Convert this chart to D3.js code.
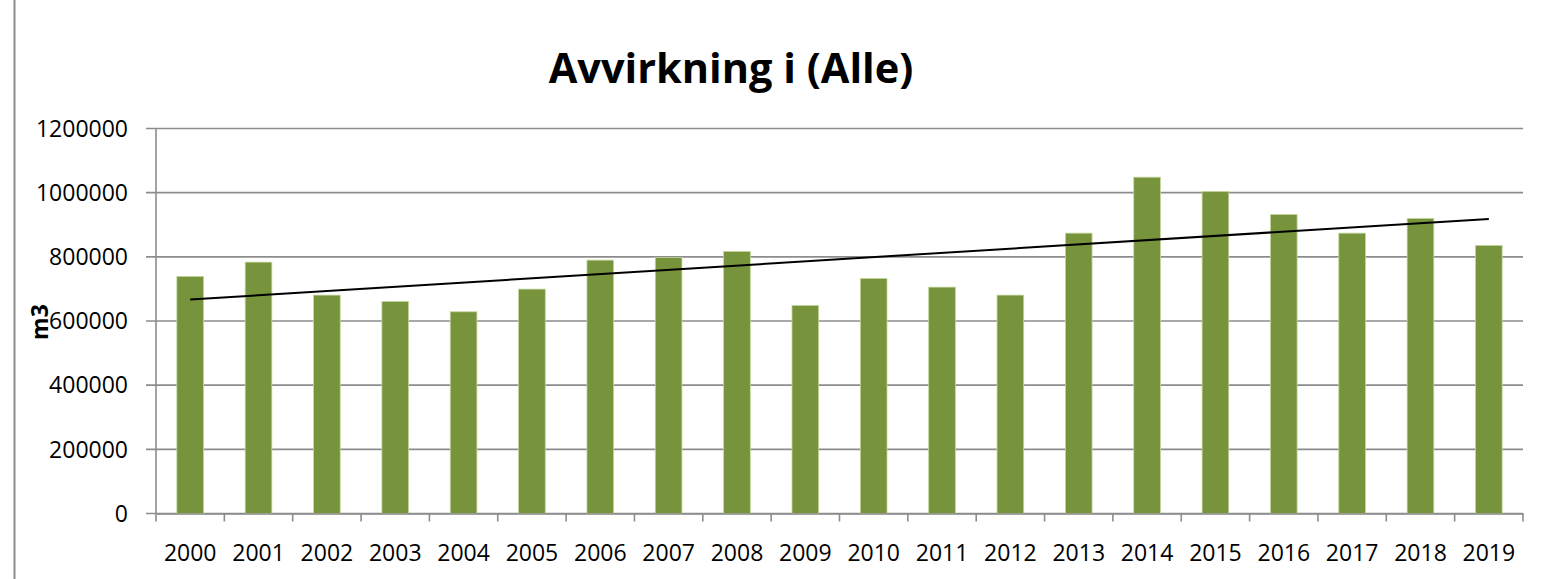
<!DOCTYPE html>
<html>
<head>
<meta charset="utf-8">
<script src="https://cdn.jsdelivr.net/npm/d3@7"></script>
<style>
  body { margin: 0; background: #fff; }
  text { font-family: "Open Sans", Lato, sans-serif; fill: #000; }
</style>
</head>
<body>
<div class="chart"></div>
<script>
var svgWidth = 1567;
var svgHeight = 579;

var margin = { top: 128.5, right: 44, bottom: 65.5, left: 156 };
var width = svgWidth - margin.left - margin.right;
var height = svgHeight - margin.top - margin.bottom;

// data (m3 per year)
var years = ["2000", "2001", "2002", "2003", "2004", "2005", "2006", "2007", "2008", "2009",
  "2010", "2011", "2012", "2013", "2014", "2015", "2016", "2017", "2018", "2019"];
var volumes = [739000, 783500, 680700, 661000, 628700, 699400, 789700, 798100, 816800, 648600,
  732700, 705600, 680700, 873800, 1048300, 1003700, 932100, 873800, 919600, 835500];
var yTicks = [0, 200000, 400000, 600000, 800000, 1000000, 1200000];

var svg = d3.select(".chart")
  .append("svg")
  .attr("width", svgWidth)
  .attr("height", svgHeight);

// left frame edge of the chart area
svg.append("line")
  .attr("x1", 14.5).attr("x2", 14.5)
  .attr("y1", 0).attr("y2", svgHeight)
  .attr("stroke", "#8c8c8c")
  .attr("stroke-width", 2);

var chart = svg.append("g")
  .attr("transform", "translate(" + margin.left + "," + margin.top + ")");

var xScale = d3.scaleBand().domain(years).range([0, width]).paddingInner(0.61).paddingOuter(0.305);
var xBand = d3.scaleBand().domain(years).range([0, width]);
var yScale = d3.scaleLinear().domain([0, 1200000]).range([height, 0]);

// gridlines
chart.append("g")
  .selectAll("line")
  .data(yTicks)
  .enter()
  .append("line")
  .attr("x1", -10)
  .attr("x2", width)
  .attr("y1", function(d) { return yScale(d); })
  .attr("y2", function(d) { return yScale(d); })
  .attr("stroke", "#8c8c8c")
  .attr("stroke-width", 1.6);

// y axis line
chart.append("line")
  .attr("x1", 0).attr("x2", 0)
  .attr("y1", 0).attr("y2", height)
  .attr("stroke", "#8c8c8c")
  .attr("stroke-width", 1.6);

// y tick labels
chart.append("g")
  .selectAll("text")
  .data(yTicks)
  .enter()
  .append("text")
  .attr("x", -28)
  .attr("y", function(d) { return yScale(d); })
  .attr("dy", "0.36em")
  .attr("text-anchor", "end")
  .style("font-size", "23px")
  .text(function(d) { return d; });

// bars
chart.append("g")
  .selectAll("rect")
  .data(volumes)
  .enter()
  .append("rect")
  .attr("x", function(d, i) { return xScale(years[i]); })
  .attr("y", function(d) { return yScale(d); })
  .attr("width", xScale.bandwidth())
  .attr("height", function(d) { return height - yScale(d); })
  .attr("fill", "#77933c")
  .attr("stroke", "#c3d69b")
  .attr("stroke-width", 0.8);

// x axis
var bottomAxis = d3.axisBottom(xBand).tickSize(0).tickPadding(31);
var xAxis = chart.append("g")
  .attr("transform", "translate(0," + height + ")")
  .call(bottomAxis);
xAxis.select(".domain").attr("stroke", "#8c8c8c").attr("stroke-width", 1.6);
xAxis.selectAll("text")
  .style("font-family", "'Open Sans', Lato, sans-serif")
  .style("font-size", "23px")
  .attr("fill", "#000");

// tick marks on band boundaries
var bounds = years.map(function(y) { return xBand(y); }).concat([width]);
chart.append("g")
  .selectAll("line")
  .data(bounds)
  .enter()
  .append("line")
  .attr("x1", function(d) { return d; })
  .attr("x2", function(d) { return d; })
  .attr("y1", height)
  .attr("y2", height + 8)
  .attr("stroke", "#8c8c8c")
  .attr("stroke-width", 1.6);

// linear trendline (least squares on the bar values)
var n = volumes.length;
var xs = d3.range(n);
var mx = d3.mean(xs);
var my = d3.mean(volumes);
var slope = d3.sum(xs, function(x, i) { return (x - mx) * (volumes[i] - my); }) /
  d3.sum(xs, function(x) { return (x - mx) * (x - mx); });
var intercept = my - slope * mx;
var trend = [0, n - 1].map(function(i) { return { i: i, v: intercept + slope * i }; });

chart.append("path")
  .datum(trend)
  .attr("fill", "none")
  .attr("stroke", "#000")
  .attr("stroke-width", 2)
  .attr("d", d3.line()
    .x(function(d) { return xBand(years[d.i]) + xBand.bandwidth() / 2; })
    .y(function(d) { return yScale(d.v); }));

// title
svg.append("text")
  .attr("x", 731)
  .attr("y", 83)
  .attr("text-anchor", "middle")
  .style("font-size", "41.5px")
  .style("font-weight", "bold")
  .text("Avvirkning i (Alle)");

// y axis label
svg.append("text")
  .attr("transform", "translate(48,322) rotate(-90)")
  .attr("text-anchor", "middle")
  .style("font-size", "23px")
  .style("font-weight", "bold")
  .text("m3");
</script>
</body>
</html>
